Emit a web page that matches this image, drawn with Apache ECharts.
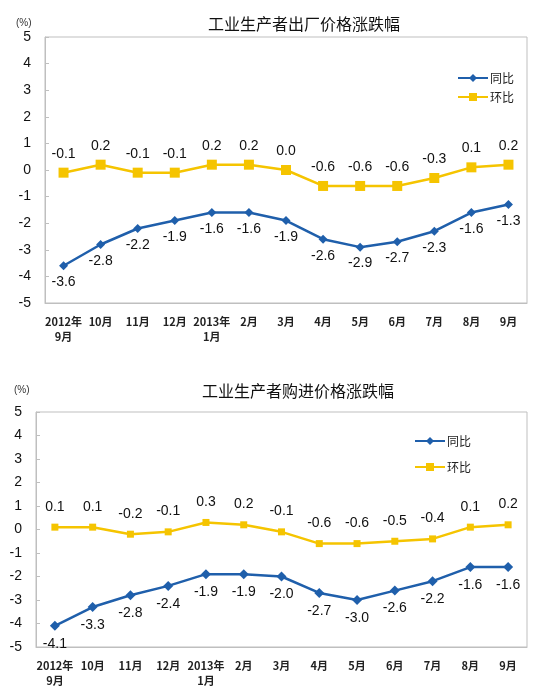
<!DOCTYPE html>
<html><head><meta charset="utf-8">
<script src="https://cdn.jsdelivr.net/npm/echarts@6/dist/echarts.min.js"></script>
<style>html,body{margin:0;padding:0;background:#fff}#c{width:560px;height:695px}</style>
</head><body><div id="c"></div>
<script>
const categories = ['2012年\n9月','10月','11月','12月','2013年\n1月','2月','3月','4月','5月','6月','7月','8月','9月'];
const yTicks = [-5,-4,-3,-2,-1,0,1,2,3,4,5];
const title1 = '工业生产者出厂价格涨跌幅';
const title2 = '工业生产者购进价格涨跌幅';
const seriesNames = ['同比','环比'];
const out_yoy = [-3.6,-2.8,-2.2,-1.9,-1.6,-1.6,-1.9,-2.6,-2.9,-2.7,-2.3,-1.6,-1.3];
const out_mom = [-0.1,0.2,-0.1,-0.1,0.2,0.2,0.0,-0.6,-0.6,-0.6,-0.3,0.1,0.2];
const in_yoy = [-4.1,-3.3,-2.8,-2.4,-1.9,-1.9,-2.0,-2.7,-3.0,-2.6,-2.2,-1.6,-1.6];
const in_mom = [0.1,0.1,-0.2,-0.1,0.3,0.2,-0.1,-0.6,-0.6,-0.5,-0.4,0.1,0.2];

const BLUE = '#1f5fab', YEL = '#f5c400';
const numFont = 'Liberation Sans, Arial, sans-serif';
const cjk = '"Noto Sans CJK SC", sans-serif';

function xAx(gi){
  return {type:'category', gridIndex:gi, data:categories, boundaryGap:true,
    axisLine:{onZero:false, lineStyle:{color:'#bfbfbf'}},
    axisTick:{inside:true, length:4, lineStyle:{color:'#bfbfbf'}},
    axisLabel:{interval:0, color:'#222', fontSize:11, fontFamily:cjk, lineHeight:15, margin:11, fontWeight:'bold'}};
}
function yAx(gi){
  return {type:'value', gridIndex:gi, min:yTicks[0], max:yTicks[yTicks.length-1], interval:1,
    splitLine:{show:false},
    axisLine:{show:true, lineStyle:{color:'#bfbfbf'}},
    axisTick:{show:true, inside:true, length:4, lineStyle:{color:'#bfbfbf'}},
    axisLabel:{color:'#111', fontSize:14, fontFamily:numFont, margin:14}};
}
function lbl(pos, dist){
  return {show:true, position:pos, distance:dist, color:'#111', fontSize:14, fontFamily:numFont,
    formatter:p=>p.value.toFixed(1)};
}
const chart = echarts.init(document.getElementById('c'), null, {renderer:'canvas'});
chart.setOption({
  animation:false,
  textStyle:{fontFamily:cjk},
  title:[
    {text:title1, left:208, top:16, padding:0, textStyle:{fontSize:16, fontWeight:'normal', color:'#111', fontFamily:cjk}},
    {text:title2, left:202, top:383, padding:0, textStyle:{fontSize:16, fontWeight:'normal', color:'#111', fontFamily:cjk}}
  ],
  graphic:[
    {type:'text', left:16, top:18, style:{text:'(%)', fontSize:10, fill:'#333', fontFamily:numFont}},
    {type:'text', left:14, top:385, style:{text:'(%)', fontSize:10, fill:'#333', fontFamily:numFont}}
  ],
  legend:[
    {data:seriesNames, orient:'vertical', left:457, top:72, padding:0, itemWidth:30, itemHeight:10, itemGap:7,
     textStyle:{fontSize:12, color:'#222', fontFamily:cjk, padding:[0,0,0,-3]}},
    {data:seriesNames.map(n=>n+' '), orient:'vertical', left:414, top:435, padding:0, itemWidth:30, itemHeight:10, itemGap:14,
     textStyle:{fontSize:12, color:'#222', fontFamily:cjk, padding:[0,0,0,-3]},
     formatter:n=>n.trim()}
  ],
  grid:[
    {left:45, top:37, width:482, height:266, show:true, borderColor:'#bfbfbf', borderWidth:1},
    {left:36, top:412, width:491, height:235, show:true, borderColor:'#bfbfbf', borderWidth:1}
  ],
  xAxis:[xAx(0), xAx(1)],
  yAxis:[yAx(0), yAx(1)],
  series:[
    {name:seriesNames[0], type:'line', xAxisIndex:0, yAxisIndex:0, data:out_yoy, color:BLUE,
     symbol:'diamond', symbolSize:9, lineStyle:{width:2.5}, label:lbl('bottom',5)},
    {name:seriesNames[1], type:'line', xAxisIndex:0, yAxisIndex:0, data:out_mom, color:YEL,
     symbol:'rect', symbolSize:10, lineStyle:{width:2.5}, label:lbl('top',7)},
    {name:seriesNames[0]+' ', type:'line', xAxisIndex:1, yAxisIndex:1, data:in_yoy, color:BLUE,
     symbol:'diamond', symbolSize:10, lineStyle:{width:2.5}, label:lbl('bottom',6)},
    {name:seriesNames[1]+' ', type:'line', xAxisIndex:1, yAxisIndex:1, data:in_mom, color:YEL,
     symbol:'rect', symbolSize:7, lineStyle:{width:2.5}, label:lbl('top',10)}
  ]
});
</script></body></html>
